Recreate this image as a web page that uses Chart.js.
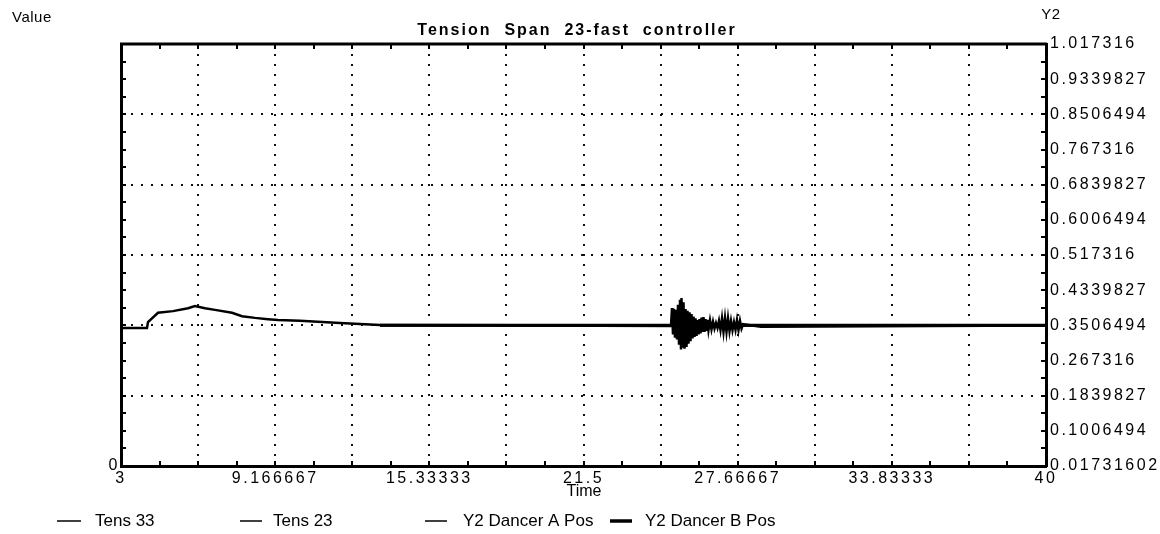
<!DOCTYPE html>
<html>
<head>
<meta charset="utf-8">
<script src="https://cdn.jsdelivr.net/npm/chart.js@4.4.0/dist/chart.umd.min.js"></script>
<style>
  html, body { margin: 0; padding: 0; background: #fff; }
  #wrap { width: 1160px; height: 534px; }
</style>
</head>
<body>
<div id="wrap"><canvas id="chart" width="1160" height="534"></canvas></div>
<script>
const chartTitle = 'Tension  Span  23-fast  controller';

// time axis: 13 ticks, labels on every second one
const xTicks = [3, 6.083333, 9.166667, 12.25, 15.33333, 18.41667, 21.5, 24.58333, 27.66667, 30.75, 33.83333, 36.91667, 40];
const xTickLabels = ['3', '9.166667', '15.33333', '21.5', '27.66667', '33.83333', '40'];

// right axis (Y2)
const y2Ticks = [0.01731602, 0.1006494, 0.1839827, 0.267316, 0.3506494, 0.4339827, 0.517316, 0.6006494, 0.6839827, 0.767316, 0.8506494, 0.9339827, 1.017316];
const y2TickLabels = ['0.01731602', '0.1006494', '0.1839827', '0.267316', '0.3506494', '0.4339827', '0.517316', '0.6006494', '0.6839827', '0.767316', '0.8506494', '0.9339827', '1.017316'];

// Tens 23 (left axis "Value")
const tens23Time = [
  3.00, 4.04, 4.08, 4.48, 5.08, 5.68, 5.96, 6.36, 6.76, 7.44, 7.84, 8.36, 8.88, 9.28, 10.16, 11.76, 13.36,
  25.00, 25.04, 25.08, 25.12, 25.16, 25.20, 25.24, 25.28, 25.32, 25.36, 25.40, 25.42, 25.46, 25.50,
  25.54, 25.58, 25.62, 25.66, 25.70, 25.74, 25.78, 25.82, 25.86, 25.90, 25.94, 25.98, 26.02, 26.06,
  26.10, 26.14, 26.18, 26.22, 26.26, 26.30, 26.34, 26.38, 26.42, 26.46, 26.50, 26.56, 26.62, 26.68,
  26.74, 26.80, 26.86, 26.92, 26.98, 27.04, 27.10, 27.16, 27.22, 27.28, 27.34, 27.40, 27.46, 27.52,
  27.58, 27.64, 27.70, 27.76, 27.82, 27.88, 28.60, 40.00
];
const tens23 = [
  0.327, 0.327, 0.341, 0.363, 0.367, 0.374, 0.379, 0.374, 0.370, 0.363, 0.355, 0.351, 0.348, 0.346, 0.344, 0.339, 0.334,
  0.332, 0.374, 0.312, 0.372, 0.304, 0.370, 0.300, 0.382, 0.290, 0.394, 0.276, 0.398, 0.280, 0.388,
  0.278, 0.372, 0.282, 0.368, 0.290, 0.364, 0.296, 0.360, 0.302, 0.354, 0.306, 0.350, 0.308, 0.346,
  0.312, 0.348, 0.314, 0.352, 0.318, 0.353, 0.318, 0.348, 0.320, 0.346, 0.322, 0.345, 0.324, 0.342,
  0.326, 0.339, 0.327, 0.344, 0.322, 0.350, 0.318, 0.351, 0.318, 0.350, 0.320, 0.344, 0.322, 0.341,
  0.323, 0.346, 0.322, 0.344, 0.326, 0.336, 0.330, 0.333, 0.333
];

// Tens 33 (left axis), overlaps the settled level
const tens33Time = [13.36, 25.00, 28.60, 40.00];
const tens33 = [0.334, 0.333, 0.333, 0.333];

// dancer positions (right axis Y2)
const dancerTime = [13.36, 40.00];
const dancerA = [0.3506494, 0.3506494];
const dancerB = [0.3506494, 0.3506494];

const legendLabels = ['Tens 33', 'Tens 23', 'Y2 Dancer A Pos', 'Y2 Dancer B Pos'];

const FONT = '"Liberation Sans", Arial, sans-serif';

function pts(t, v) {
  return t.map((x, i) => ({ x: x, y: v[i] }));
}

const decorPlugin = {
  id: 'decor',
  beforeDraw(chart) {
    chart.ctx.letterSpacing = '2.5px';
  },
  afterDraw(chart) {
    const ctx = chart.ctx;
    const { left, right, top, bottom } = chart.chartArea;
    const xs = chart.scales.x;
    const ys = chart.scales.y2;
    ctx.save();
    ctx.letterSpacing = '0px';
    ctx.strokeStyle = '#000';
    ctx.fillStyle = '#000';

    // small inward tick marks on all four sides
    ctx.lineWidth = 2;
    ctx.beginPath();
    const xStep = (xs.max - xs.min) / 24;
    for (let i = 1; i < 24; i++) {
      const px = Math.round(xs.getPixelForValue(xs.min + i * xStep));
      ctx.moveTo(px, bottom); ctx.lineTo(px, bottom - 5);
      ctx.moveTo(px, top); ctx.lineTo(px, top + 5);
    }
    const yStep = (ys.max - ys.min) / 24;
    for (let i = 1; i < 24; i++) {
      const py = Math.round(ys.getPixelForValue(ys.min + i * yStep));
      ctx.moveTo(left, py); ctx.lineTo(left + 5, py);
      ctx.moveTo(right, py); ctx.lineTo(right - 5, py);
    }
    ctx.stroke();

    // top edge of the frame
    ctx.lineWidth = 3;
    ctx.beginPath();
    ctx.moveTo(left - 1, top); ctx.lineTo(right + 1, top);
    ctx.stroke();

    // title and axis names
    ctx.textBaseline = 'middle';
    ctx.textAlign = 'center';
    ctx.font = 'bold 16px ' + FONT;
    ctx.letterSpacing = '2px';
    ctx.fillText(chartTitle, 577, 31);

    ctx.font = '15px ' + FONT;
    ctx.letterSpacing = '0.5px';
    ctx.textAlign = 'left';
    ctx.fillText('Value', 12, 18);
    ctx.textAlign = 'center';
    ctx.fillText('Y2', 1051, 15);
    ctx.font = '16px ' + FONT;
    ctx.letterSpacing = '0px';
    ctx.fillText('Time', 584, 492);

    // legend
    const samples = [[57, 81], [240, 262], [425, 447], [610, 632]];
    const textX = [95, 273, 463, 645];
    const widths = [1.5, 1.5, 1.5, 3.5];
    ctx.font = '17px ' + FONT;
    ctx.textAlign = 'left';
    legendLabels.forEach((lbl, i) => {
      ctx.lineWidth = widths[i];
      ctx.beginPath();
      ctx.moveTo(samples[i][0], 521); ctx.lineTo(samples[i][1], 521);
      ctx.stroke();
      ctx.fillText(lbl, textX[i], 521);
    });
    ctx.restore();
  }
};

const ctx = document.getElementById('chart').getContext('2d');
new Chart(ctx, {
  type: 'line',
  data: {
    datasets: [
      { label: legendLabels[0], data: pts(tens33Time, tens33), yAxisID: 'y', borderColor: '#000', borderWidth: 2.5, pointRadius: 0 },
      { label: legendLabels[1], data: pts(tens23Time, tens23), yAxisID: 'y', borderColor: '#000', borderWidth: 2.5, pointRadius: 0 },
      { label: legendLabels[2], data: pts(dancerTime, dancerA), yAxisID: 'y2', borderColor: '#000', borderWidth: 2.5, pointRadius: 0 },
      { label: legendLabels[3], data: pts(dancerTime, dancerB), yAxisID: 'y2', borderColor: '#000', borderWidth: 3, pointRadius: 0 }
    ]
  },
  options: {
    responsive: false,
    animation: false,
    events: [],
    devicePixelRatio: 1,
    layout: { padding: { top: 44, left: 0, right: 0, bottom: 0 } },
    plugins: {
      legend: { display: false },
      tooltip: { enabled: false },
      title: { display: false }
    },
    scales: {
      x: {
        type: 'linear',
        min: 3,
        max: 40,
        afterBuildTicks: (axis) => { axis.ticks = xTicks.map(v => ({ value: v })); },
        afterFit: (axis) => { axis.height = 68; },
        ticks: {
          autoSkip: false,
          maxRotation: 0,
          padding: 3,
          color: '#000',
          font: { family: FONT, size: 16 },
          callback: (v, i) => (i % 2 === 0 ? xTickLabels[i / 2] : '')
        },
        grid: {
          drawTicks: false,
          lineWidth: 2,
          color: (c) => (c.index === 0 || c.index === xTicks.length - 1 ? 'rgba(0,0,0,0)' : '#111')
        },
        border: { display: true, color: '#000', width: 3, dash: [2, 8] }
      },
      y: {
        type: 'linear',
        position: 'left',
        min: 0,
        max: 1,
        afterBuildTicks: (axis) => { axis.ticks = [{ value: 0 }]; },
        afterFit: (axis) => { axis.width = 121; },
        ticks: {
          padding: 1,
          color: '#000',
          font: { family: FONT, size: 16 },
          callback: () => '0'
        },
        grid: { display: false, drawTicks: false },
        border: { display: true, color: '#000', width: 3 }
      },
      y2: {
        type: 'linear',
        position: 'right',
        min: y2Ticks[0],
        max: y2Ticks[y2Ticks.length - 1],
        afterBuildTicks: (axis) => { axis.ticks = y2Ticks.map(v => ({ value: v })); },
        afterFit: (axis) => { axis.width = 114; },
        ticks: {
          padding: 4,
          color: '#000',
          font: { family: FONT, size: 16 },
          callback: (v, i) => y2TickLabels[i]
        },
        grid: {
          drawTicks: false,
          lineWidth: 2,
          color: (c) => (c.index % 2 === 0 && c.index !== 0 && c.index !== y2Ticks.length - 1 ? '#111' : 'rgba(0,0,0,0)')
        },
        border: { display: true, color: '#000', width: 3, dash: [2, 8] }
      }
    }
  },
  plugins: [decorPlugin]
});
</script>
</body>
</html>
